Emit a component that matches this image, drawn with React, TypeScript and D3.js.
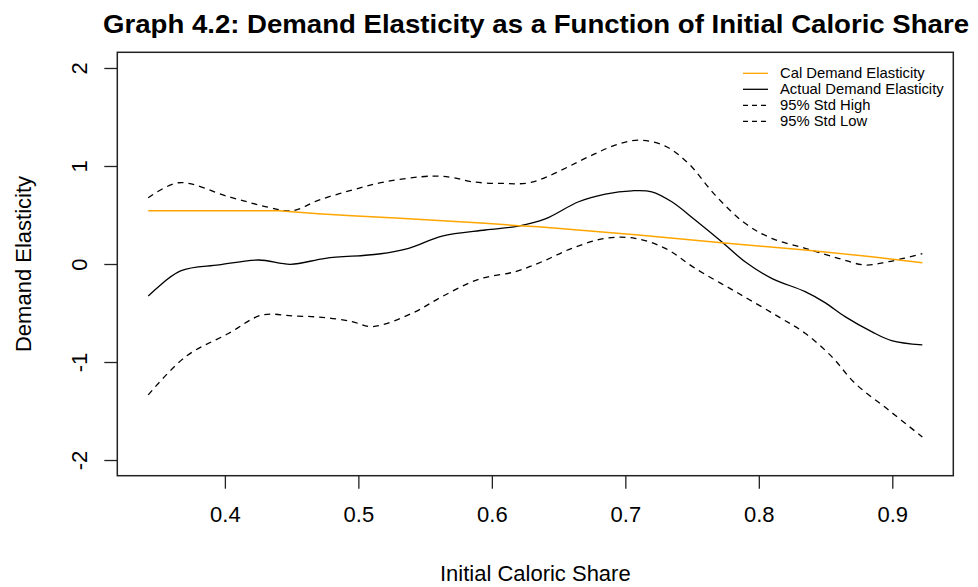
import React, { useRef, useEffect } from "react";
import * as d3 from "d3";

// Initial caloric share (x) and elasticity (y)
const calX = [0.3426, 0.4404, 0.470, 0.4953, 0.5278, 0.5502, 0.5951, 0.620, 0.635, 0.7099, 0.7722, 0.8347, 0.8845, 0.9225];
const calY = [0.543, 0.543, 0.513, 0.493, 0.469, 0.452, 0.415, 0.391, 0.380, 0.296, 0.217, 0.143, 0.075, 0.013];

const actX = [0.3426, 0.3668, 0.3955, 0.4254, 0.4492, 0.4754, 0.5153, 0.5377, 0.5627, 0.5951, 0.620, 0.640, 0.665, 0.685, 0.7049, 0.7198, 0.7348, 0.7523, 0.7722, 0.7897, 0.8096, 0.8347, 0.8496, 0.8646, 0.8845, 0.8995, 0.9225];
const actY = [-0.326, -0.071, -0.010, 0.041, -0.003, 0.058, 0.102, 0.160, 0.285, 0.347, 0.387, 0.46, 0.635, 0.713, 0.747, 0.737, 0.635, 0.449, 0.227, 0.023, -0.146, -0.282, -0.394, -0.537, -0.690, -0.782, -0.826];

const highX = [0.3426, 0.3656, 0.403, 0.4329, 0.4504, 0.4704, 0.4953, 0.5203, 0.5552, 0.5701, 0.5851, 0.6076, 0.630, 0.6725, 0.6924, 0.7099, 0.7299, 0.7473, 0.7673, 0.7897, 0.8096, 0.8347, 0.8596, 0.8795, 0.897, 0.9225];
const highY = [0.676, 0.829, 0.686, 0.578, 0.543, 0.652, 0.754, 0.839, 0.897, 0.883, 0.839, 0.822, 0.835, 1.094, 1.213, 1.264, 1.203, 1.026, 0.703, 0.415, 0.262, 0.160, 0.058, -0.010, 0.023, 0.105];

const lowX = [0.3426, 0.3706, 0.403, 0.4279, 0.4504, 0.4728, 0.4953, 0.5103, 0.5402, 0.5627, 0.5901, 0.6176, 0.6375, 0.660, 0.685, 0.7074, 0.7299, 0.7523, 0.7847, 0.8146, 0.8347, 0.8546, 0.872, 0.897, 0.9225];
const lowY = [-1.335, -0.945, -0.707, -0.520, -0.530, -0.544, -0.588, -0.639, -0.503, -0.333, -0.156, -0.078, 0.023, 0.160, 0.262, 0.262, 0.160, -0.044, -0.299, -0.537, -0.707, -0.945, -1.216, -1.488, -1.765];

const xTicks = [0.4, 0.5, 0.6, 0.7, 0.8, 0.9];
const yTicks = [-2, -1, 0, 1, 2];
const legendLabels = ["Cal Demand Elasticity", "Actual Demand Elasticity", "95% Std High", "95% Std Low"];

const font = "'Liberation Sans', Arial, sans-serif";

const App = () => {
  const svgRef = useRef(null);
  const W = 978, H = 587;
  const left = 117.3, right = 953.3, top = 52.3, bottom = 475.7;

  useEffect(() => {
    const svg = d3.select(svgRef.current);
    svg.selectAll("*").remove();

    // R style 4% padding
    const xmin = d3.min(actX), xmax = d3.max(actX);
    const pad = (xmax - xmin) * 0.04;
    const x = d3.scaleLinear().domain([xmin - pad, xmax + pad]).range([left, right]);
    const y = d3.scaleLinear().domain([-2.16, 2.16]).range([bottom, top]);

    svg.append("rect").attr("width", W).attr("height", H).attr("fill", "white");

    // title
    svg.append("text")
      .attr("x", 536).attr("y", 33)
      .attr("text-anchor", "middle")
      .attr("font-family", font).attr("font-weight", "bold").attr("font-size", 25.5)
      .attr("textLength", 866).attr("lengthAdjust", "spacingAndGlyphs")
      .text("Graph 4.2: Demand Elasticity as a Function of Initial Caloric Share");

    // axes
    const axisX = svg.append("g").attr("transform", `translate(0,${bottom})`)
      .call(d3.axisBottom(x).tickValues(xTicks).tickSize(13).tickPadding(18).tickFormat(d3.format(".1f")));
    axisX.select(".domain").remove();
    axisX.selectAll("line").attr("stroke", "#222").attr("stroke-width", 1.3);
    axisX.selectAll("text").attr("font-family", font).attr("font-size", 22).attr("fill", "black");

    const axisY = svg.append("g").attr("transform", `translate(${left},0)`)
      .call(d3.axisLeft(y).tickValues(yTicks).tickSize(13).tickFormat(d3.format("d")));
    axisY.select(".domain").remove();
    axisY.selectAll("line").attr("stroke", "#222").attr("stroke-width", 1.3);
    axisY.selectAll("text").remove();
    axisY.selectAll(".tick").append("text")
      .attr("transform", "translate(-30,0) rotate(-90)")
      .attr("text-anchor", "middle")
      .attr("font-family", font).attr("font-size", 22).attr("fill", "black")
      .text(d => d);

    // box
    svg.append("rect")
      .attr("x", left).attr("y", top).attr("width", right - left).attr("height", bottom - top)
      .attr("fill", "none").attr("stroke", "#222").attr("stroke-width", 1.5);

    // axis labels
    svg.append("text")
      .attr("x", (left + right) / 2).attr("y", 581)
      .attr("text-anchor", "middle")
      .attr("font-family", font).attr("font-size", 22)
      .text("Initial Caloric Share");
    svg.append("text")
      .attr("transform", `translate(31,${(top + bottom) / 2}) rotate(-90)`)
      .attr("text-anchor", "middle")
      .attr("font-family", font).attr("font-size", 22)
      .text("Demand Elasticity");

    // lines
    const smooth = d3.line().x(d => x(d[0])).y(d => y(d[1])).curve(d3.curveCatmullRom.alpha(0.5));
    const straight = d3.line().x(d => x(d[0])).y(d => y(d[1]));
    const zip = (a, b) => a.map((v, i) => [v, b[i]]);

    svg.append("path").datum(zip(highX, highY))
      .attr("d", smooth).attr("fill", "none").attr("stroke", "black").attr("stroke-width", 1.3).attr("stroke-dasharray", "6,5");
    svg.append("path").datum(zip(lowX, lowY))
      .attr("d", smooth).attr("fill", "none").attr("stroke", "black").attr("stroke-width", 1.3).attr("stroke-dasharray", "6,5");
    svg.append("path").datum(zip(actX, actY))
      .attr("d", smooth).attr("fill", "none").attr("stroke", "black").attr("stroke-width", 1.3);
    svg.append("path").datum(zip(calX, calY))
      .attr("d", straight).attr("fill", "none").attr("stroke", "#FFA500").attr("stroke-width", 1.5);

    // legend
    const legColors = ["#FFA500", "black", "black", "black"];
    const legDash = [null, null, "5,4", "5,4"];
    const leg = svg.append("g");
    legendLabels.forEach((lab, i) => {
      const ly = 73.3 + i * 16;
      leg.append("line").attr("x1", 743).attr("x2", 768).attr("y1", ly).attr("y2", ly)
        .attr("stroke", legColors[i]).attr("stroke-width", 1.3).attr("stroke-dasharray", legDash[i]);
      leg.append("text").attr("x", 780).attr("y", ly + 5)
        .attr("font-family", font).attr("font-size", 14.8)
        .text(lab);
    });
  }, []);

  return (
    <div style={{ position: "absolute", left: 0, top: 0 }}>
      <svg ref={svgRef} width={W} height={H}></svg>
    </div>
  );
};

export default App;
